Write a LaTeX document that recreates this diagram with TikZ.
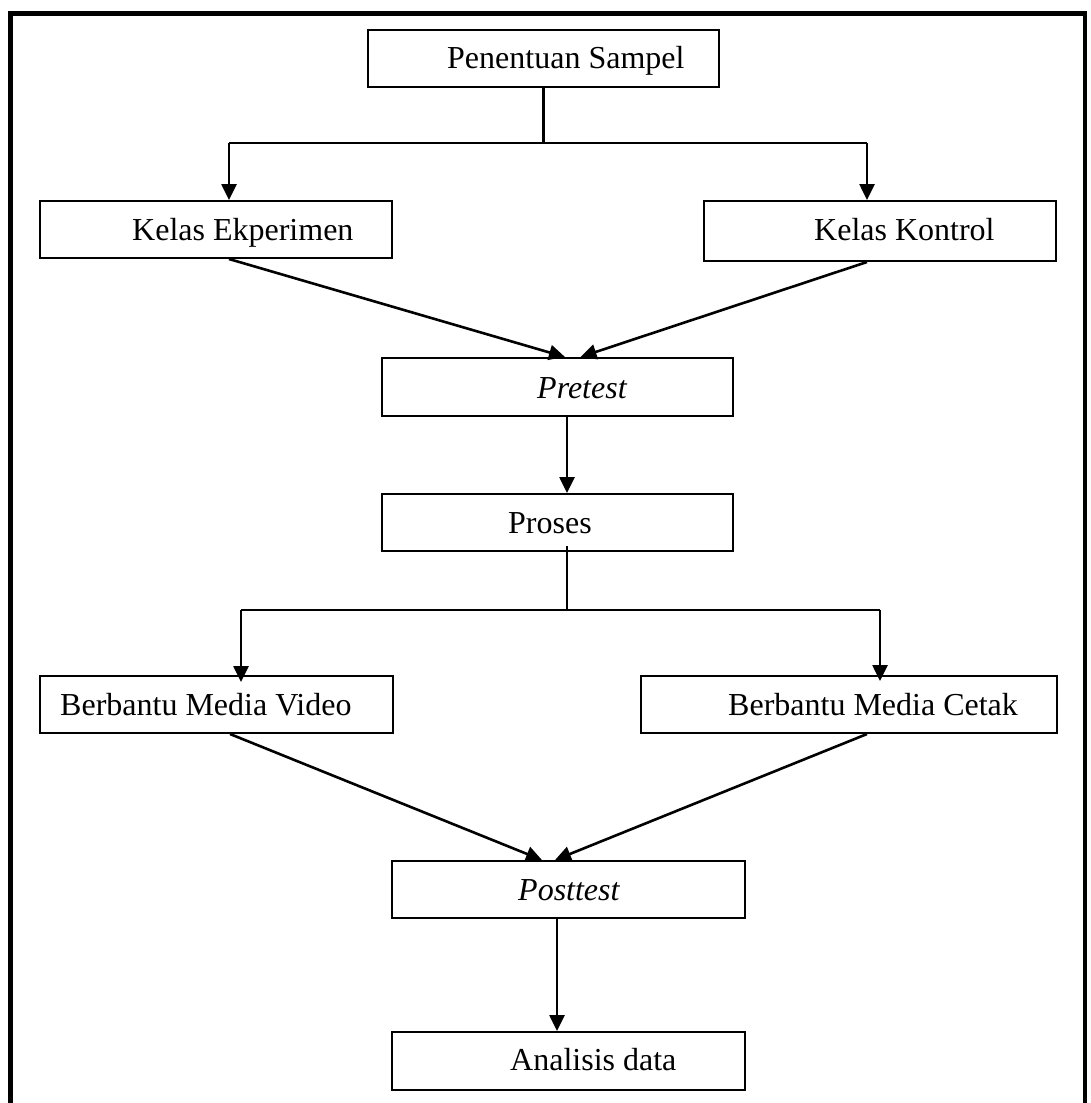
\documentclass[tikz,border=0pt]{standalone}
\usepackage{fontspec}
\setmainfont{Liberation Serif}
\usetikzlibrary{arrows.meta,calc}
\begin{document}
\begin{tikzpicture}[x=1pt,y=-1pt,
  box/.style={draw, line width=2pt, inner sep=0pt},
  lbl/.style={inner sep=0pt, anchor=base west, font=\fontsize{32}{38}\selectfont},
  conn/.style={line width=2.6pt, -{Triangle[length=16pt,width=15pt]}},
  seg/.style={line width=2.2pt},
  thinseg/.style={line width=1.6pt}]
\useasboundingbox (0,0) rectangle (1090,1103);
% outer frame
\draw[line width=5pt] (10,1110) |- (1084,13.5);
\draw[line width=4pt] (1085,11) -- (1085,1110);
% boxes
\node[box, minimum width=351pt, minimum height=57pt] (ps) at (543.5,58.5) {};
\node[box, minimum width=352pt, minimum height=57pt] (ke) at (216,229.5) {};
\node[box, minimum width=352pt, minimum height=60pt] (kk) at (880,231) {};
\node[box, minimum width=351pt, minimum height=58pt] (pt) at (557.5,387) {};
\node[box, minimum width=351pt, minimum height=57pt] (pr) at (557.5,522.5) {};
\node[box, minimum width=353pt, minimum height=57pt] (vd) at (216.5,704.5) {};
\node[box, minimum width=416pt, minimum height=57pt] (ct) at (849,704.5) {};
\node[box, minimum width=353pt, minimum height=57pt] (po) at (568.5,889.5) {};
\node[box, minimum width=353pt, minimum height=58pt] (an) at (568.5,1061) {};
% labels
\node[lbl] (tps) at (447,68) {Penentuan Sampel};
\node[lbl] (tke) at (132,240) {Kelas Ekperimen};
\node[lbl] (tkk) at (814,240) {Kelas Kontrol};
\node[lbl] (tpt) at (537,398) {\itshape Pretest};
\node[lbl] (tpr) at (508,533) {Proses};
\node[lbl] (tvd) at (60,715) {Berbantu Media Video};
\node[lbl] (tct) at (728,715) {Berbantu Media Cetak};
\node[lbl] (tpo) at (518,900) {\itshape Posttest};
\node[lbl] (tan) at (510,1070) {Analisis data};
% junction coordinates
\coordinate (j1) at (543.5,143);
\coordinate (j1l) at (229,143);
\coordinate (j1r) at (867,143);
\coordinate (c2) at (567,0);
\coordinate (j2) at (567,610);
\coordinate (j2l) at (241,610);
\coordinate (j2r) at (880,610);
\coordinate (c3) at (557,0);
% connectors top
\draw[seg] (ps.south) -- (j1);
\draw[seg] (j1l) -- (j1r);
\draw[conn] (j1l) -- (ke.north -| j1l);
\draw[conn] (j1r) -- (kk.north -| j1r);
\draw[conn] (ke.south -| j1l) -- ($(pt.north)+(7.5,0)$);
\draw[conn] (kk.south -| j1r) -- ($(pt.north)+(23,0)$);
\draw[conn] (pt.south -| c2) -- (pr.north -| c2);
% connectors middle
\draw[thinseg] ($(pr.south -| c2)+(0,-6)$) -- ($(j2)+(0,-1)$);
\draw[seg] (j2l) -- (j2r);
\draw[conn] (j2l) -- ($(vd.north -| j2l)+(0,7)$);
\draw[conn] (j2r) -- ($(ct.north -| j2r)+(0,6)$);
\draw[conn] ($(vd.south)+(13.5,0)$) -- ($(po.north)+(-26.5,0)$);
\draw[conn] ($(ct.south)+(18,0)$) -- ($(po.north)+(-13.5,0)$);
\draw[conn] (po.south -| c3) -- (an.north -| c3);
\end{tikzpicture}
\end{document}
